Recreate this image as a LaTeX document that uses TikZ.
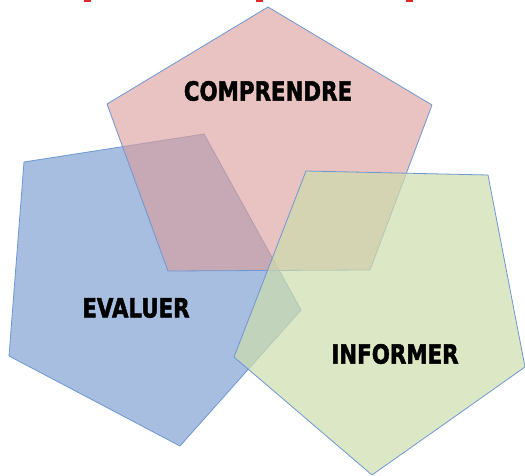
\documentclass[tikz,border=0pt]{standalone}
\usepackage{fontspec}
\usepackage{graphicx}
\setmainfont{DejaVu Sans}[BoldFeatures={FakeBold=2}]
\definecolor{pred}{RGB}{220,157,156}
\definecolor{pblue}{RGB}{167,190,224}
\definecolor{pgreen}{RGB}{205,221,172}
\definecolor{edge}{RGB}{110,150,210}
\definecolor{topred}{RGB}{225,40,40}
\newcommand{\tallword}[1]{\scalebox{0.97}[1.2]{#1}}
\tikzset{
  petal/.style={draw=edge, line width=0.8pt, line join=round},
  lbl/.style={font=\bfseries\fontsize{22}{24}\selectfont, text=black, inner sep=0pt}
}
\begin{document}
\begin{tikzpicture}[x=1pt,y=-1pt]
\useasboundingbox (0,0) rectangle (525,476);
% top red remnants
\fill[topred] (84,0) rectangle (91,2);
\fill[topred] (256,0) rectangle (263,2);
\fill[topred] (406,0) rectangle (413,2);
% blue pentagon
\path[petal, fill=pblue] (24,162) -- (204,134) -- (301,310) -- (180,446) -- (9,356) -- cycle;
% red pentagon
\path[petal, fill=pred, fill opacity=0.62] (268,7) -- (432,105) -- (370,270) -- (168,271) -- (107,104) -- cycle;
% green pentagon
\path[petal, fill=pgreen, fill opacity=0.7] (306,171) -- (488,175) -- (525,367) -- (372,475) -- (234,357) -- cycle;
% labels
\node[lbl] (comprendre) at (268,91) {\tallword{COMPRENDRE}};
\node[lbl] (evaluer) at (136,308) {\tallword{EVALUER}};
\node[lbl] (informer) at (395,354) {\tallword{INFORMER}};
\end{tikzpicture}
\end{document}
